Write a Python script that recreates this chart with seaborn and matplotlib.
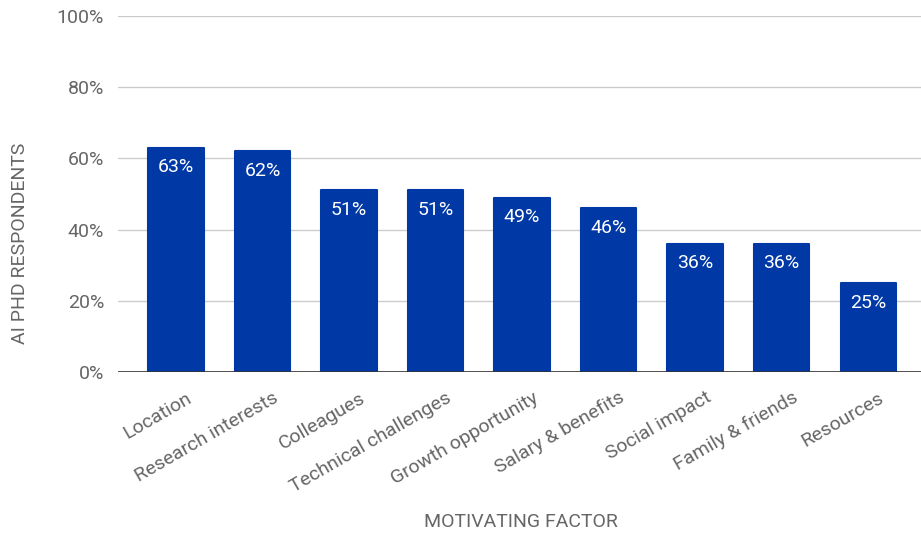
import matplotlib
matplotlib.use("Agg")
import matplotlib.pyplot as plt
import seaborn as sns
import pandas as pd

factors = ["Location", "Research interests", "Colleagues", "Technical challenges",
           "Growth opportunity", "Salary & benefits", "Social impact",
           "Family & friends", "Resources"]
shares = [63, 62, 51, 51, 49, 46, 36, 36, 25]
y_ticks = [0, 20, 40, 60, 80, 100]

df = pd.DataFrame({"factor": factors, "share": shares})

sns.set_theme(style="white")
plt.rcParams["font.family"] = ["Roboto", "DejaVu Sans"]

W, H = 921, 535
fig = plt.figure(figsize=(W / 100, H / 100), dpi=100)
ax = fig.add_axes([118 / W, 1 - 372 / H, (921 - 118) / W, (372 - 16) / H])

bar_color = "#0039a6"
sns.barplot(data=df, x="factor", y="share", color=bar_color, width=0.64,
            saturation=1, ax=ax, zorder=3)
# slightly softened corners
for p in ax.patches:
    p.set_edgecolor(bar_color)
    p.set_linewidth(1.5)
    p.set_joinstyle("round")

for i, v in enumerate(shares):
    ax.text(i, v - 5.5, f"{v}%", ha="center", va="center", color="white",
            fontsize=14, zorder=4)

ax.set_xlim(-0.67, 8.61)
ax.set_ylim(0, 100)
ax.set_yticks(y_ticks)
ax.set_yticklabels([f"{t}%" for t in y_ticks])
ax.yaxis.grid(True, color="#cccccc", linewidth=1, zorder=0)
ax.set_axisbelow(True)
ax.axhline(0, color="#333333", linewidth=1.2, zorder=5)
for s in ax.spines.values():
    s.set_visible(False)

ax.tick_params(axis="y", length=0, pad=10, labelsize=14, labelcolor="#666666")
ax.tick_params(axis="x", length=0, pad=12, labelsize=14, labelcolor="#666666")
for lbl in ax.get_xticklabels():
    lbl.set_rotation(30)
    lbl.set_ha("right")
    lbl.set_rotation_mode("anchor")
    lbl.set_transform(lbl.get_transform() + matplotlib.transforms.ScaledTranslation(
        10 / 100, 0, fig.dpi_scale_trans))

ax.set_xlabel("")
ax.set_ylabel("")
fig.text(521 / W, 1 - 522 / H, "MOTIVATING FACTOR", ha="center", va="center",
         fontsize=14, color="#666666")
fig.text(20 / W, 1 - 243 / H, "AI PHD RESPONDENTS", ha="center", va="center",
         rotation=90, fontsize=14, color="#666666")

fig.savefig("out.png", dpi=100)
